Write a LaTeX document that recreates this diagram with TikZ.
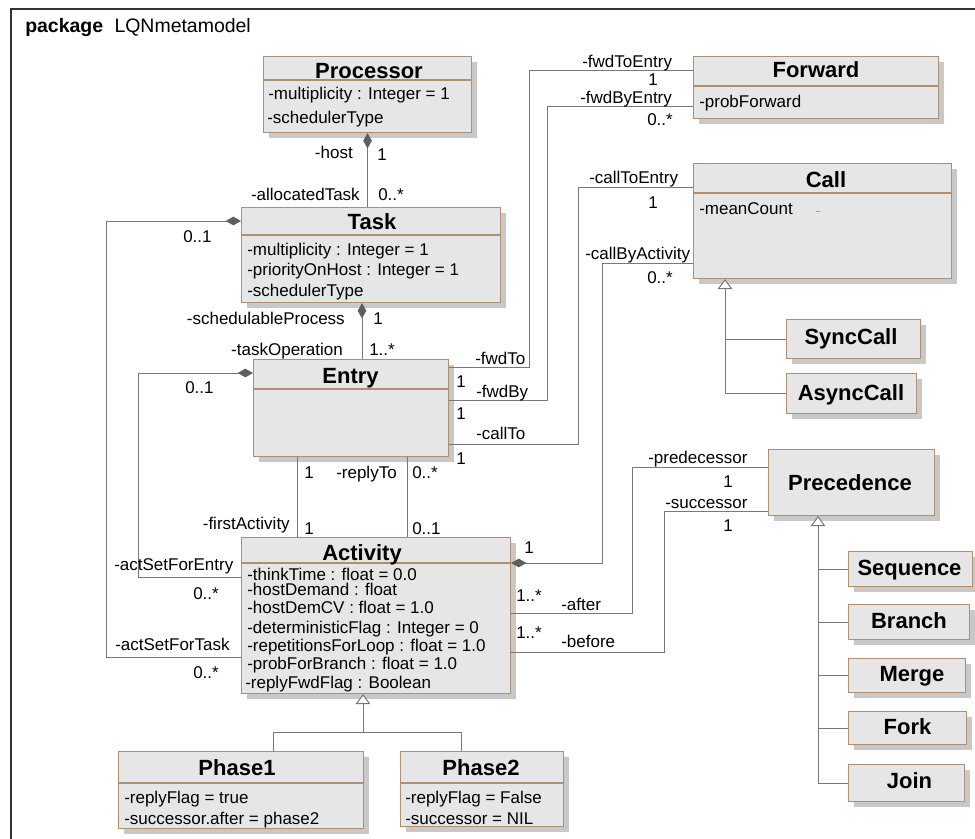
\documentclass[tikz,border=0pt]{standalone}
\usepackage{fontspec}
\setmainfont{Liberation Sans}
\usetikzlibrary{arrows.meta,shadows}

\definecolor{boxfill}{RGB}{230,230,230}
\definecolor{boxedge}{RGB}{176,142,112}
\definecolor{shade}{RGB}{200,200,200}
\definecolor{wire}{RGB}{120,120,120}
\definecolor{diam}{RGB}{95,95,95}

\newcommand\lblsize{\fontsize{12.75}{15}\selectfont}
\newcommand\ttlsize{\fontsize{16.5}{19}\selectfont\bfseries}

\tikzset{
  classbox/.style={draw=boxedge, fill=boxfill, line width=0.8pt, inner sep=0pt,
    drop shadow={shadow xshift=3.75pt, shadow yshift=-3.75pt, fill=shade, opacity=1}},
  sep/.style={draw=boxedge, line width=0.8pt},
  ttl/.style={font=\ttlsize, inner sep=0pt, anchor=base},
  attr/.style={font=\lblsize, inner sep=0pt, anchor=base west},
  lbl/.style={font=\lblsize, inner sep=0pt, anchor=base west},
  lblr/.style={font=\lblsize, inner sep=0pt, anchor=base east},
  conn/.style={draw=wire, line width=0.75pt},
  comp/.style={conn, {Diamond[length=11.5pt,width=6.5pt,fill=diam,color=diam]}-},
  gen/.style={conn, -{Triangle[length=7.5pt,width=11pt,fill=white]}},
  frame/.style={draw=black!80, line width=1.1pt},
}

% class box: name, left, top, right, bottom (pixel grid, y down)
\newcommand\umlbox[5]{%
  \node[classbox, anchor=north west,
        minimum width={(#4-#2)*0.75pt}, minimum height={(#5-#3)*0.75pt}] (#1) at (#2,#3) {};}
% compartment separator: name, top, separator y
\newcommand\umlsep[3]{%
  \draw[sep] ([yshift={-(#3-#2)*0.75pt}]#1.north west) -- ([yshift={-(#3-#2)*0.75pt}]#1.north east);}

\begin{document}
\begin{tikzpicture}[x=0.75pt, y=-0.75pt]
\useasboundingbox (0,0) rectangle (975,839);

% package frame
\draw[frame] (11,839) -- (11,9) -- (975,9);
\node[font=\fontsize{14.6}{17}\selectfont, inner sep=0pt, anchor=base west] (pkg) at (25,32)
  {\textbf{package}\hspace{8.5pt}LQNmetamodel};

% ---------- classes ----------
\umlbox{proc}{263}{56}{471}{132}
\umlsep{proc}{56}{80}
\node[ttl] (procT) at (369,78) {Processor};
\node[attr] (procA1) at (268,99) {-multiplicity : Integer = 1};
\node[attr] (procA2) at (267,123) {-schedulerType};

\umlbox{task}{241}{207}{500}{302}
\umlsep{task}{207}{235}
\node[ttl] (taskT) at (372,229) {Task};
\node[attr] (taskA1) at (247,255) {-multiplicity : Integer = 1};
\node[attr] (taskA2) at (247,275) {-priorityOnHost : Integer = 1};
\node[attr] (taskA3) at (247,296) {-schedulerType};

\umlbox{entry}{253}{359}{448}{456}
\umlsep{entry}{359}{389}
\node[ttl] (entryT) at (350.5,383) {Entry};

\umlbox{activity}{241}{537}{510}{693}
\umlsep{activity}{537}{563}
\node[ttl] (activityT) at (362,560) {Activity};
\node[attr] (actA1) at (247,580) {-thinkTime : float = 0.0};
\node[attr] (actA2) at (247,595) {-hostDemand : float};
\node[attr] (actA3) at (247,613) {-hostDemCV : float = 1.0};
\node[attr] (actA4) at (247,633) {-deterministicFlag : Integer = 0};
\node[attr] (actA5) at (247,651) {-repetitionsForLoop : float = 1.0};
\node[attr] (actA6) at (247,669) {-probForBranch : float = 1.0};
\node[attr] (actA7) at (245,688) {-replyFwdFlag : Boolean};

\umlbox{phase1}{118}{751}{363}{828}
\umlsep{phase1}{751}{783}
\node[ttl] (phase1T) at (237,775) {Phase1};
\node[attr] (ph1A1) at (124,803) {-replyFlag = true};
\node[attr] (ph1A2) at (124,824) {-successor.after = phase2};

\umlbox{phase2}{400}{751}{563}{826}
\umlsep{phase2}{751}{783}
\node[ttl] (phase2T) at (481,775) {Phase2};
\node[attr] (ph2A1) at (405,803) {-replyFlag = False};
\node[attr] (ph2A2) at (405,824) {-successor = NIL};

\umlbox{forward}{693}{56}{938}{118}
\umlsep{forward}{56}{86}
\node[ttl] (forwardT) at (816,77) {Forward};
\node[attr] (fwdA1) at (699,107) {-probForward};

\umlbox{call}{693}{163}{951}{278}
\umlsep{call}{163}{193}
\node[ttl] (callT) at (826,187) {Call};
\node[attr] (callA1) at (699,214) {-meanCount};
\node[font=\fontsize{5}{6}\selectfont, inner sep=0pt, anchor=base west] (callDots) at (815,212) {...};

\umlbox{synccall}{786}{319}{920}{358}
\node[ttl] (synccallT) at (851,344) {SyncCall};
\umlbox{asynccall}{786}{373}{916}{413}
\node[ttl] (asynccallT) at (851,400) {AsyncCall};

\umlbox{precedence}{768}{449}{934}{515}
\node[ttl] (precedenceT) at (850,490) {Precedence};

\umlbox{sequence}{848}{551}{972}{586}
\node[ttl] (sequenceT) at (909.5,575) {Sequence};
\umlbox{branch}{848}{604}{969}{639}
\node[ttl] (branchT) at (909,628) {Branch};
\umlbox{merge}{848}{658}{965}{692}
\node[ttl] (mergeT) at (912,681) {Merge};
\umlbox{fork}{848}{711}{966}{744}
\node[ttl] (forkT) at (907.5,734) {Fork};
\umlbox{join}{848}{764}{964}{801}
\node[ttl] (joinT) at (909.5,788) {Join};

% ---------- routing guides ----------
\coordinate (vTE) at (362,0);
\coordinate (hTaskAgg) at (0,221);   \coordinate (vTaskAgg) at (106,0); \coordinate (hActTask) at (0,657);
\coordinate (hEntAgg) at (0,373);    \coordinate (vEntAgg) at (138,0);  \coordinate (hActEnt) at (0,577);
\coordinate (vFirst) at (297,0);     \coordinate (vReply) at (407,0);
\coordinate (hFwdTo) at (0,367);     \coordinate (vFwdTo) at (529,0);   \coordinate (hFwdToEntry) at (0,70);
\coordinate (hFwdBy) at (0,400);     \coordinate (vFwdBy) at (547,0);   \coordinate (hFwdByEntry) at (0,106);
\coordinate (hCallTo) at (0,444);    \coordinate (vCallTo) at (578,0);  \coordinate (hCallToEntry) at (0,187);
\coordinate (hCallBy) at (0,563);    \coordinate (vCallBy) at (602,0);  \coordinate (hCallByAct) at (0,263);
\coordinate (hAfter) at (0,613);     \coordinate (vAfter) at (632,0);   \coordinate (hPred) at (0,467);
\coordinate (hBefore) at (0,652);    \coordinate (vBefore) at (664,0);  \coordinate (hSucc) at (0,511);
\coordinate (vActGen) at (363,0);    \coordinate (hPhaseBus) at (0,732);
\coordinate (vPh1) at (273,0);       \coordinate (vPh2) at (461,0);
\coordinate (vCallGen) at (725,0);   \coordinate (vPrecGen) at (818,0);

% ---------- associations ----------
\draw[comp] (proc.south) -- (proc.south |- task.north);
\draw[comp] (task.south -| vTE) -- (entry.north -| vTE);
\draw[comp] (task.west |- hTaskAgg) -- (vTaskAgg |- hTaskAgg) -- (vTaskAgg |- hActTask) -- (activity.west |- hActTask);
\draw[comp] (entry.west |- hEntAgg) -- (vEntAgg |- hEntAgg) -- (vEntAgg |- hActEnt) -- (activity.west |- hActEnt);
\draw[conn] (entry.south -| vFirst) -- (activity.north -| vFirst);
\draw[conn] (entry.south -| vReply) -- (activity.north -| vReply);
\draw[conn] (entry.east |- hFwdTo) -- (vFwdTo |- hFwdTo) -- (vFwdTo |- hFwdToEntry) -- (forward.west |- hFwdToEntry);
\draw[conn] (entry.east |- hFwdBy) -- (vFwdBy |- hFwdBy) -- (vFwdBy |- hFwdByEntry) -- (forward.west |- hFwdByEntry);
\draw[conn] (entry.east |- hCallTo) -- (vCallTo |- hCallTo) -- (vCallTo |- hCallToEntry) -- (call.west |- hCallToEntry);
\draw[comp] (activity.east |- hCallBy) -- (vCallBy |- hCallBy) -- (vCallBy |- hCallByAct) -- (call.west |- hCallByAct);
\draw[conn] (activity.east |- hAfter) -- (vAfter |- hAfter) -- (vAfter |- hPred) -- (precedence.west |- hPred);
\draw[conn] (activity.east |- hBefore) -- (vBefore |- hBefore) -- (vBefore |- hSucc) -- (precedence.west |- hSucc);

% ---------- generalizations ----------
\draw[gen] (vActGen |- hPhaseBus) -- (activity.south -| vActGen);
\draw[conn] (phase1.north -| vPh1) -- (vPh1 |- hPhaseBus) -- (vPh2 |- hPhaseBus) -- (phase2.north -| vPh2);

\draw[gen] (vCallGen |- asynccall.west) -- (call.south -| vCallGen);
\draw[conn] (vCallGen |- synccall.west) -- (synccall.west);
\draw[conn] (vCallGen |- asynccall.west) -- (asynccall.west);

\draw[gen] (vPrecGen |- join.west) -- (precedence.south -| vPrecGen);
\draw[conn] (vPrecGen |- sequence.west) -- (sequence.west);
\draw[conn] (vPrecGen |- branch.west) -- (branch.west);
\draw[conn] (vPrecGen |- merge.west) -- (merge.west);
\draw[conn] (vPrecGen |- fork.west) -- (fork.west);
\draw[conn] (vPrecGen |- join.west) -- (join.west);

% ---------- role names and multiplicities ----------
\node[lblr] (lHost) at (353,158) {-host};
\node[lbl] (lHost1) at (377,160) {1};
\node[lblr] (lAlloc) at (360,200) {-allocatedTask};
\node[lbl] (lAlloc0) at (378,200) {0..*};
\node[lbl] (lTaskAgg) at (183,242) {0..1};
\node[lblr] (lSched) at (345,324) {-schedulableProcess};
\node[lbl] (lSched1) at (373,324) {1};
\node[lblr] (lTaskOp) at (343,355) {-taskOperation};
\node[lbl] (lTaskOp1) at (369,355) {1..*};
\node[lbl] (lEntAgg) at (185,393) {0..1};
\node[lbl] (lFwdTo) at (475,364) {-fwdTo};
\node[lbl] (lFwdTo1) at (456,387) {1};
\node[lbl] (lFwdBy) at (476,397) {-fwdBy};
\node[lbl] (lFwdBy1) at (456,419) {1};
\node[lbl] (lCallTo) at (476,439) {-callTo};
\node[lbl] (lCallTo1) at (456,464) {1};
\node[lbl] (lFirstE) at (304,478) {1};
\node[lbl] (lReplyTo) at (336,478) {-replyTo};
\node[lbl] (lReplyE) at (412,478) {0..*};
\node[lblr] (lFirst) at (290,529) {-firstActivity};
\node[lbl] (lFirstA) at (304,534) {1};
\node[lbl] (lReplyA) at (412,534) {0..1};
\node[lbl] (lActEnt) at (114,570) {-actSetForEntry};
\node[lbl] (lActEnt0) at (193,599) {0..*};
\node[lbl] (lActTask) at (115,650) {-actSetForTask};
\node[lbl] (lActTask0) at (193,678) {0..*};
\node[lbl] (lFwdToEntry) at (582,67) {-fwdToEntry};
\node[lbl] (lFwdToEntry1) at (648,85) {1};
\node[lbl] (lFwdByEntry) at (580,103) {-fwdByEntry};
\node[lbl] (lFwdByEntry0) at (647,125) {0..*};
\node[lbl] (lCallToEntry) at (589,183) {-callToEntry};
\node[lbl] (lCallToEntry1) at (648,208) {1};
\node[lbl] (lCallByAct) at (585,259) {-callByActivity};
\node[lbl] (lCallByAct0) at (647,283) {0..*};
\node[lbl] (lCallByAct1) at (524,553) {1};
\node[lbl] (lAfter1) at (516,601) {1..*};
\node[lbl] (lAfter) at (561,610) {-after};
\node[lbl] (lBefore1) at (516,638) {1..*};
\node[lbl] (lBefore) at (561,647) {-before};
\node[lbl] (lPred) at (648,463) {-predecessor};
\node[lbl] (lPred1) at (723,487) {1};
\node[lbl] (lSucc) at (665,508) {-successor};
\node[lbl] (lSucc1) at (723,531) {1};

\end{tikzpicture}
\end{document}
